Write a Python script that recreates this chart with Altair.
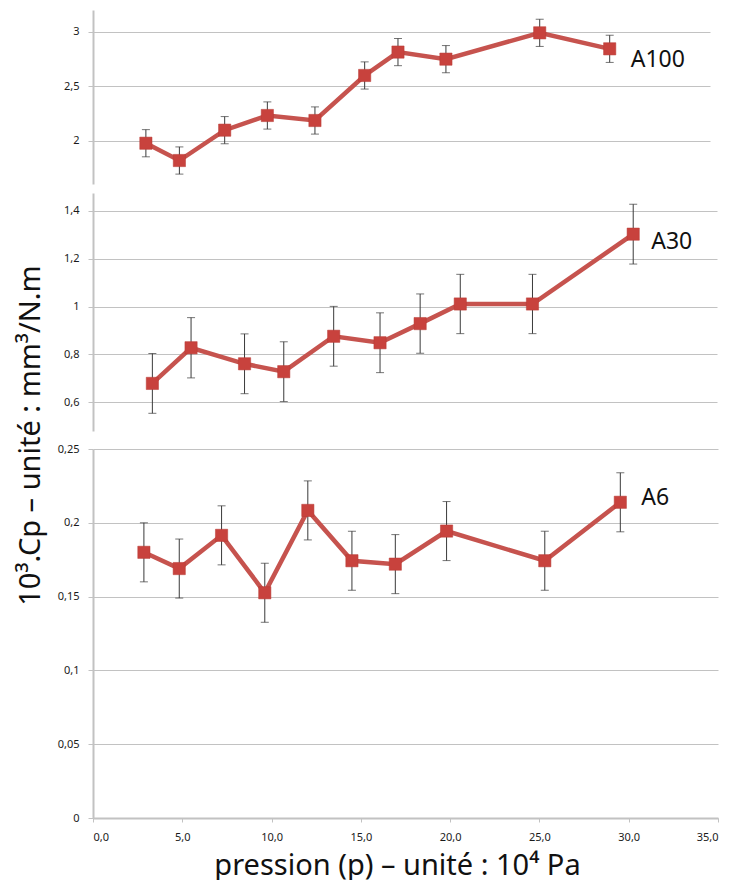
import altair as alt
import pandas as pd

# ---- data ----
names = ["A100", "A30", "A6"]

top_x = [3.0, 4.9, 7.47, 9.89, 12.59, 15.41, 17.3, 20.02, 25.34, 29.31]
top_y = [1.975, 1.816, 2.095, 2.23, 2.184, 2.598, 2.813, 2.748, 2.99, 2.843]
top_err = [0.125, 0.125, 0.125, 0.125, 0.125, 0.125, 0.125, 0.125, 0.125, 0.125]

mid_x = [3.33, 5.5, 8.5, 10.7, 13.5, 16.1, 18.35, 20.6, 24.65, 30.3]
mid_y = [0.679, 0.828, 0.761, 0.728, 0.876, 0.849, 0.929, 1.011, 1.011, 1.303]
mid_err = [0.125, 0.126, 0.125, 0.125, 0.125, 0.125, 0.124, 0.124, 0.124, 0.125]

bot_x = [2.85, 4.83, 7.2, 9.62, 12.03, 14.5, 16.93, 19.8, 25.3, 29.53]
bot_y = [0.180, 0.169, 0.1915, 0.1526, 0.2084, 0.1743, 0.172, 0.1944, 0.1743, 0.2139]
bot_err = [0.02, 0.02, 0.02, 0.02, 0.02, 0.02, 0.02, 0.02, 0.02, 0.02]

top_ticks = [2, 2.5, 3]
mid_ticks = [0.6, 0.8, 1.0, 1.2, 1.4]
bot_ticks = [0, 0.05, 0.1, 0.15, 0.2, 0.25]
x_ticks = [0, 5, 10, 15, 20, 25, 30, 35]

y_title = "10³.Cp – unité : mm³/N.m"
x_title = "pression (p) – unité : 10⁴ Pa"

FONT = "Noto Sans"
LINE = "#C6534E"
MARK = "#C8423D"
ERR = "#3A3A3A"
GRID = "#C2C2C2"


def make_df(xs, ys, errs, name):
    n = len(xs)
    return pd.DataFrame({
        "x": xs,
        "y": ys,
        "lo": [y - e for y, e in zip(ys, errs)],
        "hi": [y + e for y, e in zip(ys, errs)],
        "label": [""] * (n - 1) + [name],
    })


def panel(df, width, height, plot_h, ydom, yvals, dx, dy, bottom=False, ytitle=False):
    xscale = alt.Scale(domain=[0, 35], nice=False, zero=False)
    if bottom:
        xaxis = alt.Axis(values=x_ticks, grid=False,
                         labelExpr="replace(format(datum.value, '.1f'), '.', ',')",
                         labelFont=FONT, labelFontSize=11, labelColor="#1a1a1a",
                         labelPadding=9, tickSize=4, tickColor=GRID, tickWidth=1,
                         domainColor=GRID, domainWidth=2,
                         title=x_title, titleFont=FONT, titleFontSize=29,
                         titleFontWeight="normal", titleColor="#111",
                         titlePadding=9, titleX=304)
    else:
        xaxis = None
    yargs = dict(values=yvals, grid=True, gridColor=GRID, gridWidth=1,
                 labelExpr="replace(format(datum.value, '~g'), '.', ',')",
                 labelFont=FONT, labelFontSize=11, labelColor="#1a1a1a",
                 labelPadding=9, tickSize=5, tickColor=GRID, tickWidth=1,
                 domainColor=GRID, domainWidth=2)
    if ytitle:
        yargs.update(title=y_title, titleFont=FONT, titleFontSize=29,
                     titleFontWeight="normal", titleColor="#111",
                     titleX=-54, titleY=242, titleAlign="center",
                     titleBaseline="alphabetic", titleAngle=270)
    else:
        yargs.update(title=None)
    yaxis = alt.Axis(**yargs)
    yscale = alt.Scale(domain=ydom, nice=False, zero=False, range=[plot_h, 0])

    X = alt.X("x:Q", scale=xscale, axis=xaxis)
    base = alt.Chart(df)
    err = base.mark_rule(color=ERR, strokeWidth=1).encode(
        x=X, y=alt.Y("lo:Q", scale=yscale, axis=yaxis), y2="hi:Q")
    cap_lo = base.mark_tick(color=ERR, orient="horizontal", size=8, thickness=1).encode(
        x=X, y=alt.Y("lo:Q", scale=yscale, axis=yaxis))
    cap_hi = base.mark_tick(color=ERR, orient="horizontal", size=8, thickness=1).encode(
        x=X, y=alt.Y("hi:Q", scale=yscale, axis=yaxis))
    line = base.mark_line(color=LINE, strokeWidth=4.5).encode(
        x=X, y=alt.Y("y:Q", scale=yscale, axis=yaxis))
    pts = base.mark_square(color=MARK, size=150, opacity=1,
                           stroke="#B83A35", strokeWidth=0.5).encode(
        x=X, y=alt.Y("y:Q", scale=yscale, axis=yaxis))
    lab = base.transform_filter("datum.label != ''").mark_text(
        align="left", baseline="middle", dx=dx, dy=dy,
        font=FONT, fontSize=23, color="#111").encode(
        x=X, y=alt.Y("y:Q", scale=yscale, axis=yaxis), text="label:N")
    return alt.layer(err, cap_lo, cap_hi, line, pts, lab).properties(
        width=width, height=height)


top = panel(make_df(top_x, top_y, top_err, names[0]), 617, 174, 174, [1.6, 3.2],
            top_ticks, 21, 11)
mid = panel(make_df(mid_x, mid_y, mid_err, names[1]), 624, 247, 238, [0.48, 1.475],
            mid_ticks, 18, 8, ytitle=True)
bot = panel(make_df(bot_x, bot_y, bot_err, names[2]), 625, 369, 369, [0, 0.25],
            bot_ticks, 21, -4, bottom=True)

chart = alt.vconcat(top, mid, bot, spacing=9, bounds="flush").resolve_scale(
    x="independent", y="independent").properties(
    padding={"left": 7, "top": 2, "right": 5, "bottom": 0},
    background="white",
).configure_view(strokeWidth=0, strokeOpacity=0)

chart.save("out.html", embed_options={"renderer": "svg", "actions": False})
